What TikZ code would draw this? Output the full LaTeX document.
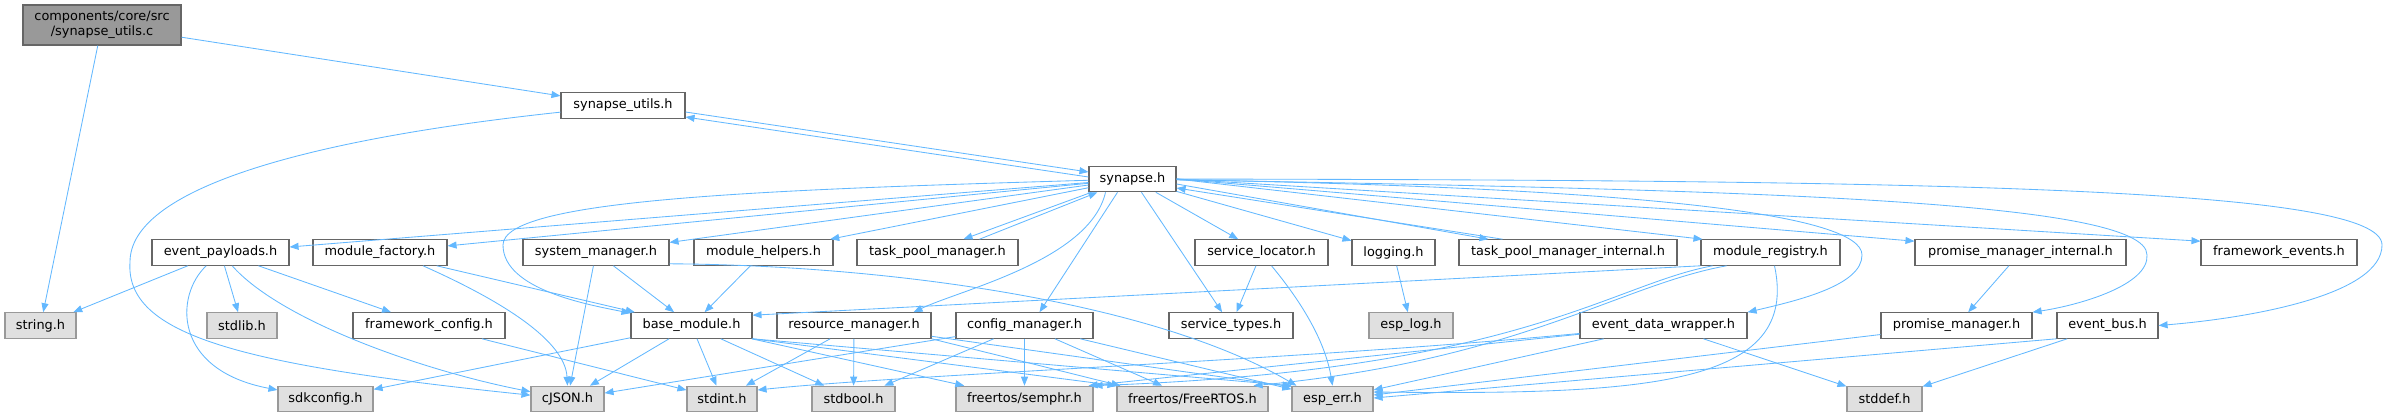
\documentclass[tikz,border=0pt]{standalone}
\usepackage{fontspec}
\setmainfont{DejaVu Sans}
\usetikzlibrary{arrows.meta}
\definecolor{edgec}{HTML}{63B8FF}
\definecolor{boxline}{HTML}{666666}
\definecolor{extline}{HTML}{999999}
\definecolor{extfill}{HTML}{E0E0E0}
\definecolor{rootfill}{HTML}{999999}
\begin{document}
\begin{tikzpicture}[x=1pt,y=-1pt,
  box/.style={draw=boxline, fill=white, line width=1.1pt, inner sep=0pt, minimum height=25.5pt,
    font=\fontsize{12.9pt}{15pt}\selectfont},
  ext/.style={box, draw=extline, fill=extfill},
  rootbox/.style={box, fill=rootfill, align=center, minimum height=40pt},
  e/.style={draw=edgec, line width=0.85pt, -{Triangle[length=9pt,width=7pt]}},
]
\useasboundingbox (0,0) rectangle (2389,417);

% row 0-2
\node[rootbox, minimum width=158pt] (sync) at (102,25) {components/core/src\\/synapse\_utils.c};
\node[box, minimum width=124pt] (sutilh) at (623,105.5) {synapse\_utils.h};
\node[box, minimum width=87pt] (synh) at (1132.5,179) {synapse.h};

% row 3
\node[box, minimum width=137pt] (evp) at (220.5,252.5) {event\_payloads.h};
\node[box, minimum width=134pt] (mfac) at (380,252.5) {module\_factory.h};
\node[box, minimum width=146pt] (sysm) at (596,252.5) {system\_manager.h};
\node[box, minimum width=139pt] (mhelp) at (763.5,252.5) {module\_helpers.h};
\node[box, minimum width=161pt] (tpm) at (937.5,252.5) {task\_pool\_manager.h};
\node[box, minimum width=133pt] (sloc) at (1261.5,252.5) {service\_locator.h};
\node[box, minimum width=83pt] (logg) at (1393.5,252.5) {logging.h};
\node[box, minimum width=218pt] (tpmi) at (1568,252.5) {task\_pool\_manager\_internal.h};
\node[box, minimum width=139pt] (mreg) at (1770.5,252.5) {module\_registry.h};
\node[box, minimum width=211pt] (pmi) at (2020.5,252.5) {promise\_manager\_internal.h};
\node[box, minimum width=156pt] (fwe) at (2279,252.5) {framework\_events.h};

% row 4
\node[ext, minimum width=71pt] (strh) at (40.5,325.5) {string.h};
\node[ext, minimum width=70pt] (stdlib) at (242,325.5) {stdlib.h};
\node[box, minimum width=152pt] (fwc) at (429,325.5) {framework\_config.h};
\node[box, minimum width=121pt] (basem) at (691.5,325.5) {base\_module.h};
\node[box, minimum width=154pt] (resm) at (854,325.5) {resource\_manager.h};
\node[box, minimum width=137pt] (cfgm) at (1024.5,325.5) {config\_manager.h};
\node[box, minimum width=124pt] (svct) at (1231,325.5) {service\_types.h};
\node[ext, minimum width=84pt] (esplog) at (1411,325.5) {esp\_log.h};
\node[box, minimum width=167pt] (edw) at (1663.5,325.5) {event\_data\_wrapper.h};
\node[box, minimum width=151pt] (pm) at (1956.5,325.5) {promise\_manager.h};
\node[box, minimum width=101pt] (evb) at (2107.5,325.5) {event\_bus.h};

% row 5
\node[ext, minimum width=95pt] (sdk) at (325.5,399) {sdkconfig.h};
\node[ext, minimum width=73pt] (cjson) at (567.5,399) {cJSON.h};
\node[ext, minimum width=70pt] (stdint) at (722,399) {stdint.h};
\node[ext, minimum width=83pt] (stdbool) at (853.5,399) {stdbool.h};
\node[ext, minimum width=137pt] (semphr) at (1024.5,399) {freertos/semphr.h};
\node[ext, minimum width=151pt] (frtos) at (1192.5,399) {freertos/FreeRTOS.h};
\node[ext, minimum width=81pt] (esperr) at (1332.5,399) {esp\_err.h};
\node[ext, minimum width=75pt] (stddef) at (1884.5,399) {stddef.h};

% top edges
\draw[e] (sync) -- (sutilh);
\draw[e] (sync) -- (strh);
\draw[e] (sutilh) .. controls (300,140) and (130,190) .. (130,262) .. controls (125,335) and (240,365) .. (cjson);
\draw[e] ([yshift=-6.5pt]sutilh.east) -- ([yshift=7pt]synh.west);
\draw[e] ([yshift=2pt]synh.west) -- ([yshift=-11.5pt]sutilh.east);

% synapse.h fan
\draw[e] (synh) -- (evp);
\draw[e] (synh) -- (mfac);
\draw[e] (synh) -- (sysm);
\draw[e] (synh) -- (mhelp);
\draw[e] ([xshift=3pt]synh.south west) -- ([xshift=26pt]tpm.north);
\draw[e] ([xshift=42pt]tpm.north) -- ([xshift=9pt]synh.south west);
\draw[e] (synh) .. controls (750,190) and (503,200) .. (503,245) .. controls (503,290) and (590,305) .. (basem);
\draw[e] ([xshift=-27pt]synh.south) .. controls (1090,260) and (960,290) .. ([xshift=-18pt]resm.north east);
\draw[e] ([xshift=-15pt]synh.south) -- ([xshift=15pt]cfgm.north);
\draw[e] (synh) -- (svct);
\draw[e] (synh) -- (sloc);
\draw[e] (synh) -- (logg);
\draw[e] ([yshift=-5pt]synh.east) -- ([xshift=30pt]tpmi.north west);
\draw[e] ([xshift=44pt]tpmi.north west) -- ([yshift=-9pt]synh.east);
\draw[e] (synh.east) -- ([xshift=2pt]mreg.north west);
\draw[e] (synh.east) -- ([yshift=-2pt]pmi.north west);
\draw[e] (synh.east) -- ([yshift=-2pt]fwe.north west);
\draw[e] (synh) .. controls (1650,188) and (1862,215) .. (1862,255) .. controls (1862,285) and (1800,300) .. (edw.north east);
\draw[e] (synh) .. controls (1750,190) and (2147,200) .. (2147,255) .. controls (2149,285) and (2080,305) .. (pm.north east);
\draw[e] (synh) .. controls (1950,180) and (2382,188) .. (2382,245) .. controls (2382,295) and (2250,318) .. (evb.east);

% event_payloads.h
\draw[e] (evp) -- (strh);
\draw[e] (evp) -- (stdlib);
\draw[e] (evp) -- (fwc);
\draw[e] (evp) .. controls (175,295) and (172,370) .. (sdk);
\draw[e] (evp) .. controls (280,320) and (420,370) .. (cjson);

% module_factory.h, system_manager.h, module_helpers.h
\draw[e] (mfac) -- (basem);
\draw[e] ([xshift=43pt]mfac.south) .. controls (500,300) and (565,340) .. (cjson.north);
\draw[e] (sysm) -- (basem);
\draw[e] (sysm) -- (cjson);
\draw[e] ([yshift=2pt]sysm.south east) .. controls (880,265) and (1150,300) .. ([xshift=5pt]esperr.north west);
\draw[e] (mhelp) -- (basem);

% framework_config.h
\draw[e] (fwc) -- (stdint);

% base_module.h
\draw[e] (basem) -- (sdk);
\draw[e] (basem) -- (cjson);
\draw[e] (basem) -- (stdint);
\draw[e] (basem) -- (stdbool);
\draw[e] (basem) -- (semphr);
\draw[e] (basem.south east) -- (frtos.north west);
\draw[e] (basem.south east) -- (esperr.north west);

% resource_manager.h
\draw[e] (resm) -- (stdint);
\draw[e] (resm) -- (stdbool);
\draw[e] (resm.south east) -- ([xshift=4pt]frtos.north west);
\draw[e] (resm) -- ([yshift=-1pt]esperr.north west);

% config_manager.h
\draw[e] (cfgm) -- (cjson);
\draw[e] (cfgm) -- (stdbool);
\draw[e] (cfgm) -- (semphr);
\draw[e] (cfgm) -- (frtos);
\draw[e] (cfgm) -- (esperr);

% service_locator.h, logging.h
\draw[e] (sloc) -- (svct);
\draw[e] ([xshift=10pt]sloc.south) .. controls (1300,300) and (1325,340) .. (esperr.north);
\draw[e] (logg) -- (esplog);

% module_registry.h
\draw[e] (mreg.south west) -- ([yshift=-3pt]basem.north east);
\draw[e] ([xshift=-58pt]mreg.south) .. controls (1610,285) and (1520,370) .. (semphr.north east);
\draw[e] ([xshift=-44pt]mreg.south) .. controls (1620,285) and (1520,360) .. ([xshift=-15pt]frtos.north east);
\draw[e] ([xshift=4pt]mreg.south) .. controls (1800,385) and (1650,395) .. ([yshift=7pt]esperr.east);

% event_data_wrapper.h
\draw[e] (edw) .. controls (1300,360) and (900,375) .. ([yshift=9pt]stdint.east);
\draw[e] (edw) -- ([xshift=-5pt]semphr.north east);
\draw[e] (edw) -- (esperr);
\draw[e] (edw) -- (stddef);

% promise manager, event bus
\draw[e] (pmi) -- (pm);
\draw[e] (pm) -- ([yshift=4pt]esperr.east);
\draw[e] (evb) -- (stddef);
\draw[e] (evb.south west) -- ([yshift=1pt]esperr.east);
\end{tikzpicture}
\end{document}
